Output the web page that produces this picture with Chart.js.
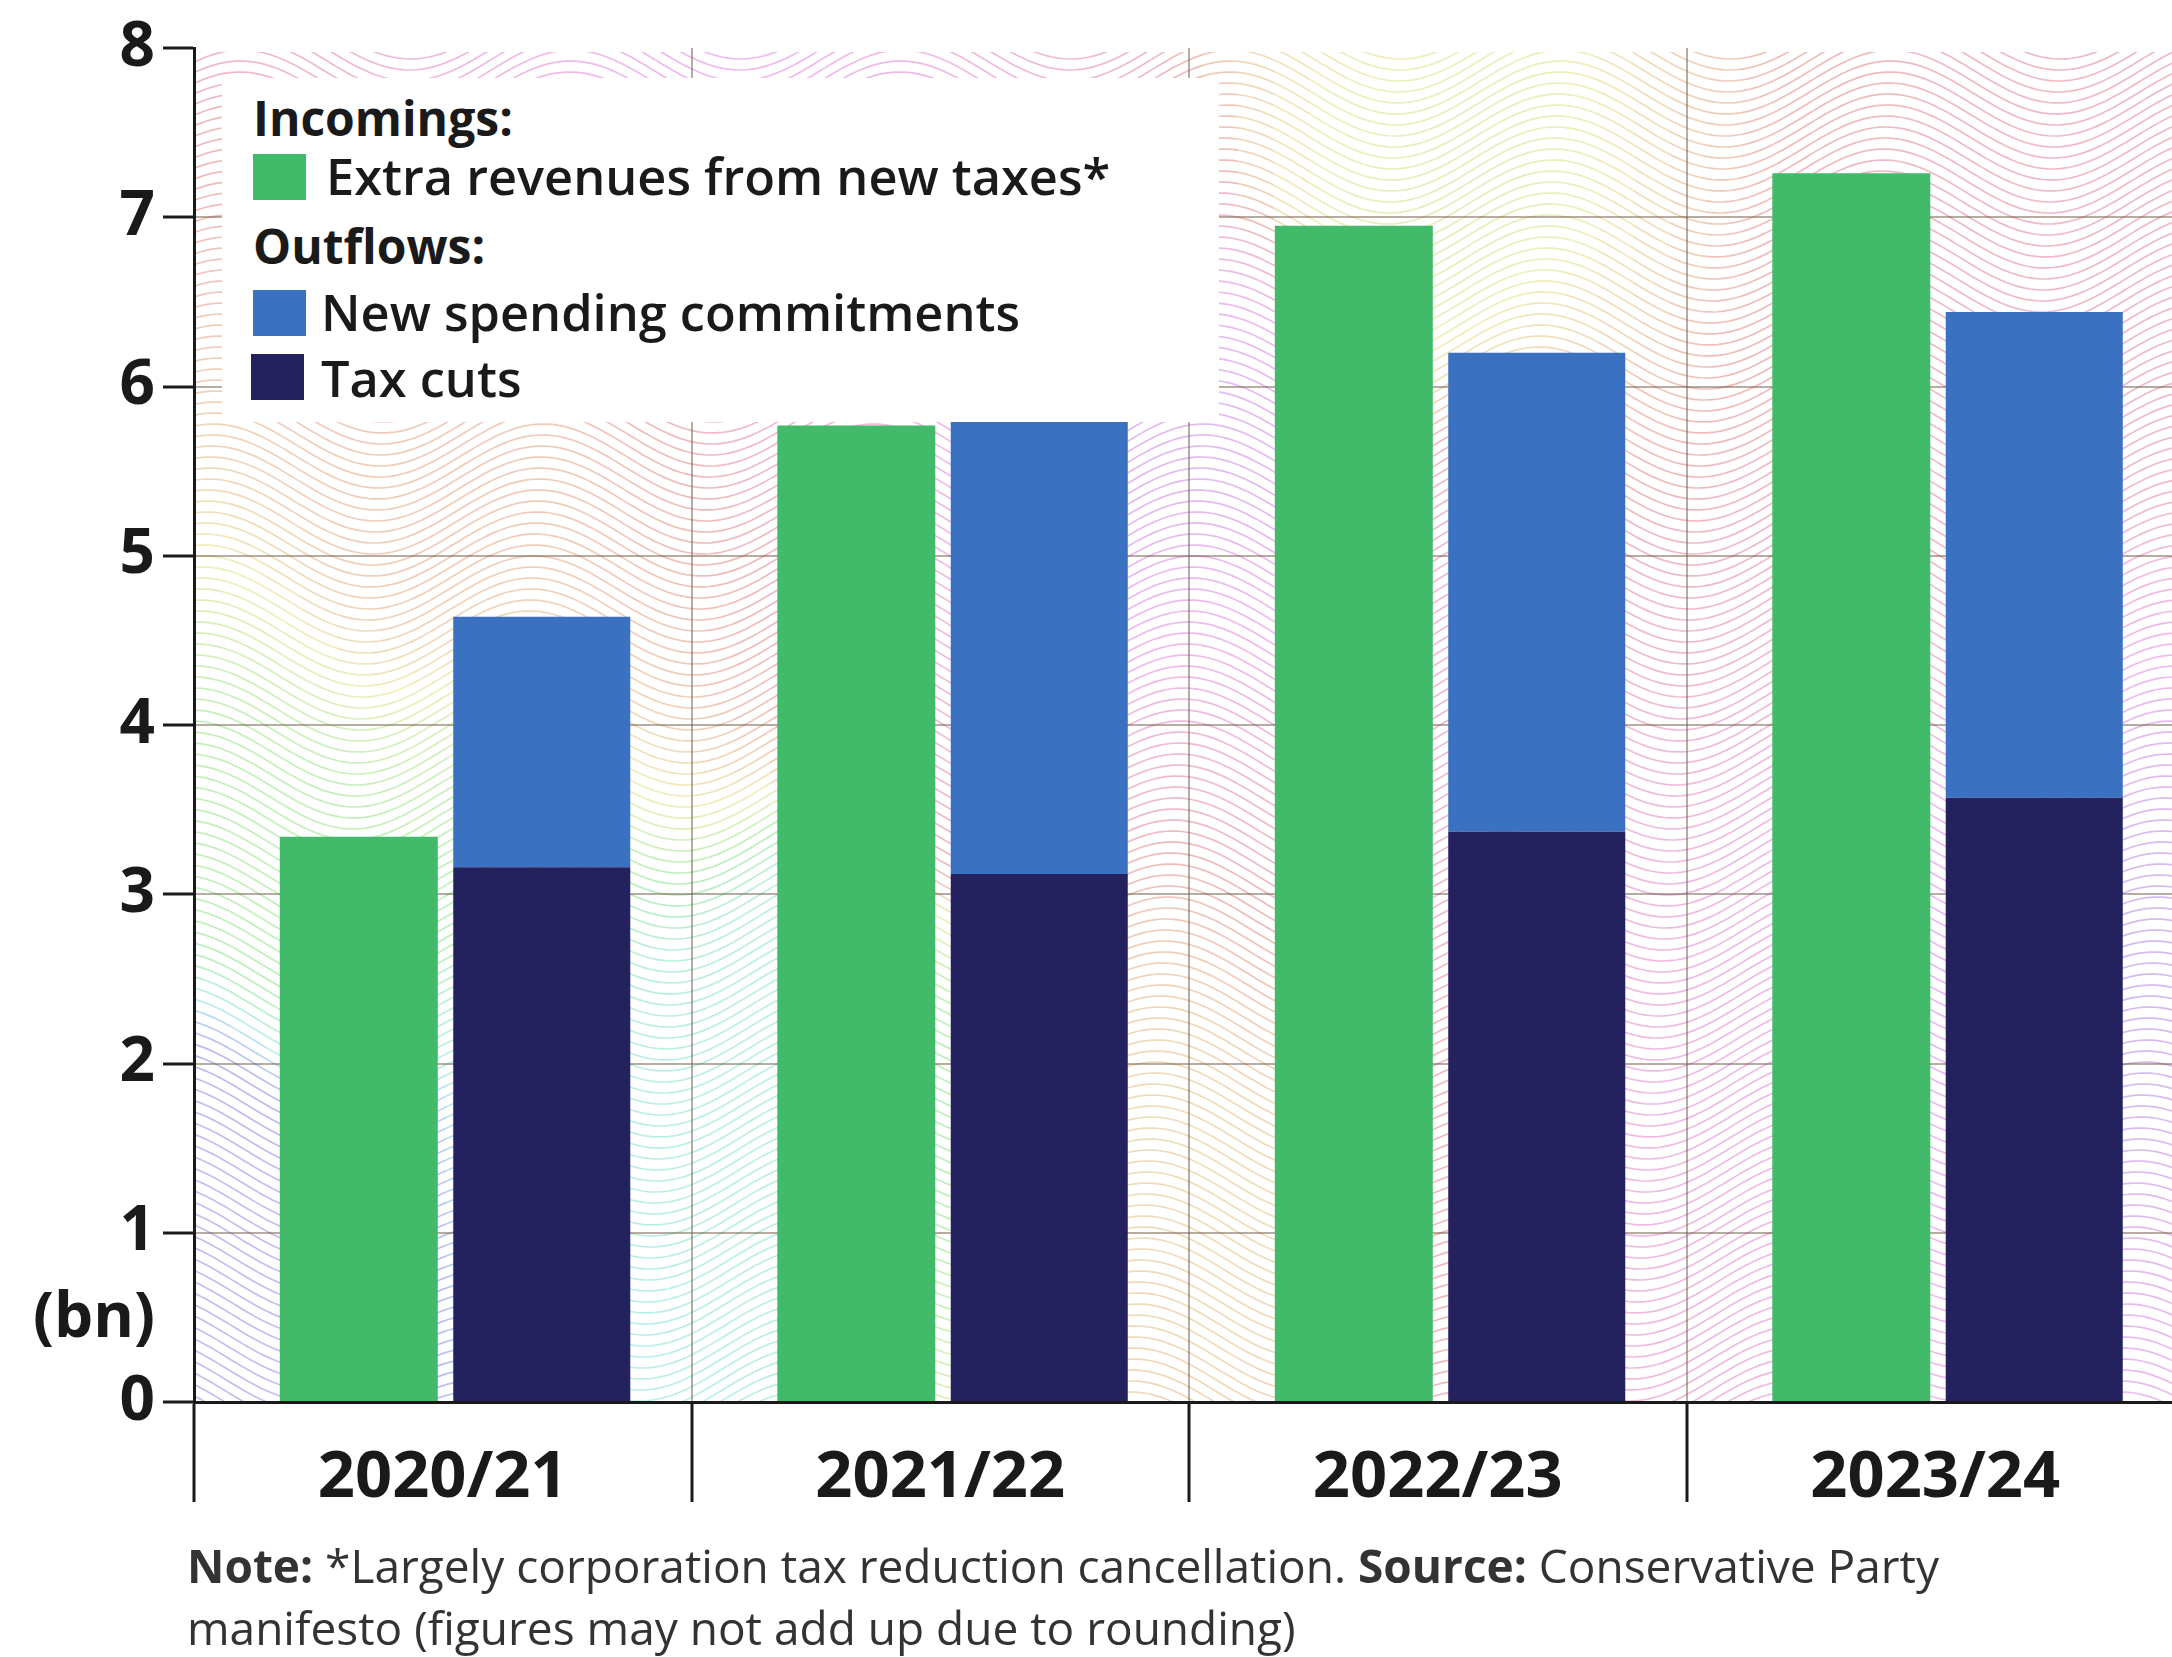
<!DOCTYPE html>
<html>
<head>
<meta charset="utf-8">
<script src="https://cdn.jsdelivr.net/npm/chart.js@4.4.1/dist/chart.umd.min.js"></script>
<style>
  html,
  body {
    margin: 0;
    padding: 0;
    width: 2172px;
    height: 1657px;
    overflow: hidden;
    background: #fff;
    font-family: "Open Sans", sans-serif;
  }
  #wrap {
    position: absolute;
    left: 0;
    top: 0;
    width: 2200px;
    height: 1540px;
  }
  #key {
    position: absolute;
    left: 222px;
    top: 78px;
    width: 997px;
    height: 344px;
    background: #fff;
    color: #1a1a1a;
  }
  #key .head,
  #key .item {
    position: absolute;
    line-height: 1;
    white-space: nowrap;
  }
  #key .head {
    font-size: 48px;
    font-weight: 700;
  }
  #key .item {
    font-size: 50.5px;
    font-weight: 600;
  }
  #key .swatch {
    position: absolute;
    width: 53px;
    height: 46px;
  }
  #unit {
    position: absolute;
    left: 0;
    top: 1282px;
    width: 155px;
    text-align: right;
    font-size: 62px;
    font-weight: 700;
    line-height: 1;
    color: #1a1a1a;
  }
  #note {
    position: absolute;
    left: 187px;
    top: 1534px;
    font-size: 46px;
    line-height: 62px;
    color: #333;
    white-space: nowrap;
  }
</style>
</head>
<body>
<div id="wrap"><canvas id="chart" width="2200" height="1540"></canvas></div>
<div id="key"></div>
<div id="unit">(bn)</div>
<div id="note">
  <b>Note:</b> *Largely corporation tax reduction cancellation. <b>Source:</b> Conservative Party<br>
  manifesto (figures may not add up due to rounding)
</div>

<script>
const years = ["2020/21", "2021/22", "2022/23", "2023/24"];
const extraRevenues = [3.34, 5.77, 6.95, 7.26];
const taxCuts = [3.16, 3.12, 3.37, 3.57];
const newSpending = [1.48, 2.73, 2.83, 2.87];
const yMin = 0;
const yMax = 8;
const yStep = 1;

const GREEN = "#41bb69";
const BLUE = "#3a71c1";
const NAVY = "#23225e";
const INK = "#1a1a1a";
const GRID = "rgba(112, 90, 68, 0.5)";

// pale rainbow wave lines behind the bars
const hueAnchors = [
  [450, 500, 20],
  [300, 820, 110],
  [230, 1250, 260],
  [700, 1150, 170],
  [1180, 450, 285],
  [1200, 1200, 40],
  [1450, 200, 75],
  [1950, 300, 350],
  [1700, 1100, 310],
  [700, 60, 300],
  [2160, 1000, 270],
];

function hueAt(x, y) {
  let cx = 0;
  let cy = 0;
  hueAnchors.forEach(([ax, ay, h]) => {
    const w = 1 / ((ax - x) ** 2 + (ay - y) ** 2 + 400);
    cx += w * Math.cos((h * Math.PI) / 180);
    cy += w * Math.sin((h * Math.PI) / 180);
  });
  return ((Math.atan2(cy, cx) * 180) / Math.PI + 360) % 360;
}

const wavyBackground = {
  id: "wavyBackground",
  beforeDraw(chart) {
    const { ctx, chartArea: area } = chart;
    const gap = 11;
    const period = 330;
    const amp = 32;
    const step = 6;
    const chunk = 36;
    const wave = (x, y0) => y0 + amp * Math.sin((x / period) * Math.PI * 2 + y0 / 700);

    ctx.save();
    ctx.beginPath();
    ctx.rect(area.left, area.top + 4, area.right - area.left, area.bottom - area.top - 4);
    ctx.clip();
    ctx.lineWidth = 1.7;
    for (let y0 = area.top - amp - gap; y0 < area.bottom + amp + gap; y0 += gap) {
      for (let x = area.left; x < area.right; x += chunk) {
        const hue = hueAt(x + chunk / 2, y0);
        ctx.strokeStyle = `hsla(${hue.toFixed(0)}, 62%, 60%, 0.42)`;
        ctx.beginPath();
        ctx.moveTo(x, wave(x, y0));
        for (let s = step; s <= chunk; s += step) {
          ctx.lineTo(x + s, wave(x + s, y0));
        }
        ctx.stroke();
      }
    }
    ctx.restore();
  },
};

const chart = new Chart(document.getElementById("chart"), {
  type: "bar",
  data: {
    labels: years,
    datasets: [
      {
        label: "Extra revenues from new taxes*",
        data: extraRevenues,
        backgroundColor: GREEN,
        stack: "in",
        categoryPercentage: 0.675,
        barPercentage: 0.941,
      },
      {
        label: "Tax cuts",
        data: taxCuts,
        backgroundColor: NAVY,
        stack: "out",
        categoryPercentage: 0.796,
        barPercentage: 0.894,
      },
      {
        label: "New spending commitments",
        data: newSpending,
        backgroundColor: BLUE,
        stack: "out",
        categoryPercentage: 0.796,
        barPercentage: 0.894,
      },
    ],
  },
  plugins: [wavyBackground],
  options: {
    responsive: false,
    animation: false,
    layout: { padding: { top: 48, left: 0, right: 16, bottom: 0 } },
    plugins: {
      legend: { display: false },
      tooltip: { enabled: false },
    },
    scales: {
      x: {
        stacked: true,
        grid: {
          offset: true,
          color: GRID,
          lineWidth: 2,
          tickColor: INK,
          tickWidth: 3,
          tickLength: 100,
        },
        border: { color: INK, width: 3 },
        ticks: {
          color: INK,
          font: { family: "Open Sans", weight: "bold", size: 65 },
          padding: -63,
        },
        afterFit: (scale) => {
          scale.height = 138;
        },
      },
      y: {
        stacked: true,
        min: yMin,
        max: yMax,
        grid: {
          color: (c) => (c.tick && c.tick.value === yMax ? "rgba(0,0,0,0)" : GRID),
          lineWidth: 2,
          tickColor: INK,
          tickWidth: 3,
          tickLength: 31,
        },
        border: { color: INK, width: 3 },
        ticks: {
          stepSize: yStep,
          color: INK,
          font: { family: "Open Sans", weight: "bold", size: 62 },
          padding: 8,
        },
        afterFit: (scale) => {
          scale.width = 194;
        },
      },
    },
  },
});

// key box, built from the chart's datasets
const key = document.getElementById("key");
const byLabel = {};
chart.data.datasets.forEach((ds) => (byLabel[ds.label] = ds));

const keyRows = [
  { head: "Incomings:", top: 16 },
  { item: "Extra revenues from new taxes*", top: 73, sw: 76, swLeft: 31, left: 104 },
  { head: "Outflows:", top: 144 },
  { item: "New spending commitments", top: 209, sw: 212, swLeft: 31, left: 99 },
  { item: "Tax cuts", top: 275, sw: 276, swLeft: 29, left: 99 },
];

keyRows.forEach((row) => {
  const el = document.createElement("div");
  if (row.head) {
    el.className = "head";
    el.textContent = row.head;
    el.style.left = "31px";
    el.style.top = row.top + "px";
  } else {
    el.className = "item";
    el.textContent = row.item;
    el.style.left = row.left + "px";
    el.style.top = row.top + "px";
    const sw = document.createElement("div");
    sw.className = "swatch";
    sw.style.left = row.swLeft + "px";
    sw.style.top = row.sw + "px";
    sw.style.background = byLabel[row.item].backgroundColor;
    key.appendChild(sw);
  }
  key.appendChild(el);
});
</script>
</body>
</html>
